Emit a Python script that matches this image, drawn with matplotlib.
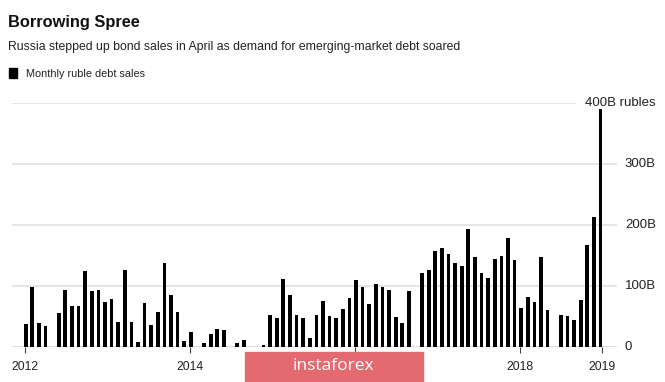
import numpy as np
import matplotlib
matplotlib.use("Agg")
import matplotlib.pyplot as plt
from matplotlib.patches import Rectangle
from matplotlib.transforms import blended_transform_factory

#====================================================================
# Data (billion rubles, monthly, Jan 2012 - Apr 2019)
#====================================================================
monthly_sales = [38, 98, 39, 35, 0, 56, 93, 68, 67, 124, 92, 93,
                 73, 78, 41, 126, 41, 8, 72, 36, 58, 138, 86, 58,
                 10, 24, 0, 6, 21, 29, 28, 0, 7, 12, 0, 0,
                 3, 52, 47, 112, 86, 52, 47, 15, 52, 75, 51, 47,
                 63, 80, 110, 99, 71, 103, 98, 93, 49, 39, 91, 0,
                 121, 126, 158, 162, 153, 138, 133, 193, 147, 121, 113, 144,
                 150, 178, 143, 64, 82, 73, 147, 61, 0, 52, 51, 44,
                 77, 167, 213, 390]

# 2016 label sits under the watermark in the reference, tick only
year_labels = ["2012", "2014", "", "2018", "2019"]
year_ticks = [-0.1, 24.9, 49.8, 74.8, 87.3]

y_grid = [100, 200, 300, 400]
y_labels = ["0", "100B", "200B", "300B", "400B rubles"]

#====================================================================
# Figure
#====================================================================
W, H = 665, 382
fig = plt.figure(figsize=(W / 100, H / 100), dpi=100)
plt.rcParams['font.family'] = ['Liberation Sans', 'DejaVu Sans']

# axes placed in pixel terms
left_px, right_px, base_px, top_px = 12, 617, 347, 103
ax = fig.add_axes([left_px / W, 1 - base_px / H, (right_px - left_px) / W, (base_px - top_px) / H])

x = np.arange(len(monthly_sales))
ax.bar(x, monthly_sales, width=0.56, color='black', zorder=3, clip_on=False)

ax.set_xlim(-2.07, 89.5)
ax.set_ylim(0, 400)

# gridlines
for g in y_grid:
    xmax = 0.93 if g == 400 else 1.0
    ax.axhline(g, xmin=0, xmax=xmax, color='#e2e2e2', lw=1.2, zorder=1)
ax.axhline(0, color='#555555', lw=1.0, zorder=2)

for s in ax.spines.values():
    s.set_visible(False)

ax.set_xticks(year_ticks)
ax.set_xticklabels(year_labels)
ax.tick_params(axis='x', length=4, width=0.8, color='#444444', pad=6,
               labelsize=8.7, labelcolor='#222222')
ax.set_yticks([])

# right-hand labels
trans = blended_transform_factory(ax.transAxes, ax.transData)
for val, lab in zip([0] + y_grid, y_labels):
    xpos = 0.947 if lab.endswith("rubles") else 1.013
    ax.text(xpos, val, lab, transform=trans, ha='left', va='center',
            fontsize=9.5, color='#222222')

# titles
fig.text(8 / W, 1 - 27.5 / H, "Borrowing Spree", fontsize=11.8, fontweight='bold',
         color='#111111', va='baseline', ha='left')
fig.text(8 / W, 1 - 50 / H,
         "Russia stepped up bond sales in April as demand for emerging-market debt soared",
         fontsize=8.8, color='#222222', va='baseline', ha='left')

# legend
fig.patches.append(Rectangle((9.3 / W, 1 - 78 / H), 8 / W, 10 / H, color='black',
                             transform=fig.transFigure, figure=fig))
fig.text(25.5 / W, 1 - 77 / H, "Monthly ruble debt sales", fontsize=7.8,
         color='#222222', va='baseline', ha='left')

# watermark
fig.patches.append(Rectangle((245 / W, 0), 177.7 / W, 30.3 / H, color='#e36b6f',
                             transform=fig.transFigure, figure=fig, zorder=10))
fig.text(333 / W, 15.5 / H, "instaforex", fontsize=12.5, color='white',
         family='Open Sans', ha='center', va='center', zorder=11)

fig.savefig("out.png", dpi=100)
plt.close()
